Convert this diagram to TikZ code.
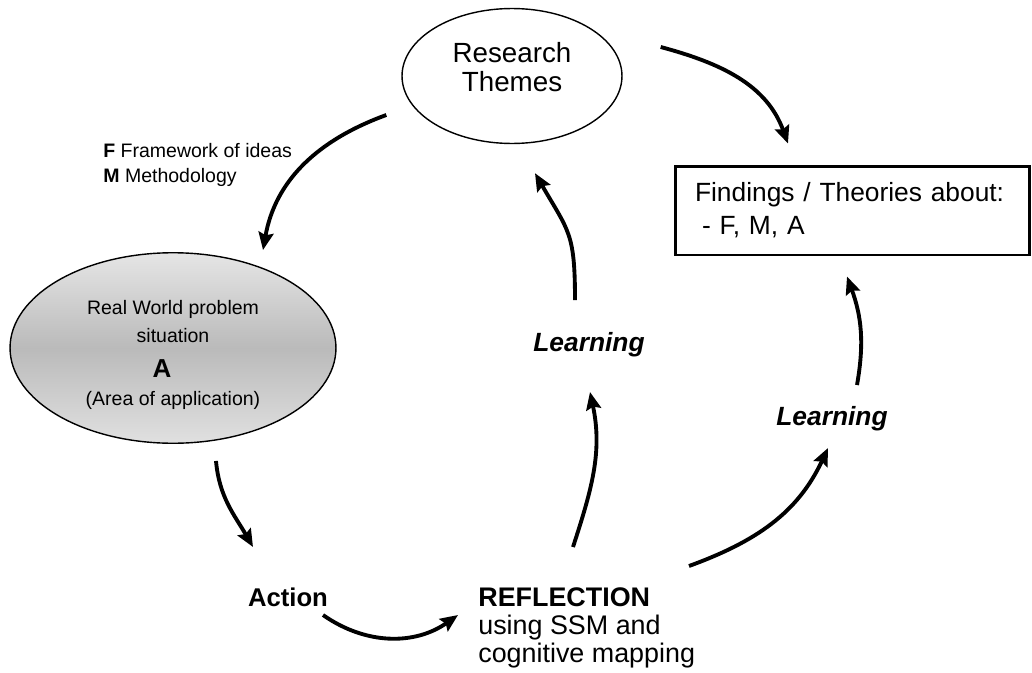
\documentclass[tikz,border=0pt]{standalone}
\usepackage{fontspec}
\setmainfont{Liberation Sans}
\usetikzlibrary{arrows.meta,shapes.geometric}

\begin{document}
\begin{tikzpicture}[x=0.02cm,y=0.02cm,
    flow/.style={line width=2.2pt,-{Stealth[length=10pt,width=8.5pt,inset=1.5pt]}},
    bigtext/.style={font=\fontsize{15.8pt}{17pt}\selectfont},
    smalltext/.style={font=\fontsize{11.1pt}{14.7pt}\selectfont}]

    % Fix the page size to the reference
    \useasboundingbox (0,0) rectangle (1032,-673);

    % Research themes at the top
    \node[draw,ellipse,line width=0.8pt,minimum width=4.4cm,minimum height=2.7cm,
          align=center,bigtext] (rt) at (512,-76) {Research\\Themes\rule[-0.36cm]{0pt}{0pt}};

    % Box with the findings on the right
    \node[draw,line width=1.7pt,text width=6.3cm,inner xsep=0.4cm,minimum height=1.78cm,
          align=left,font=\fontsize{15pt}{18.7pt}\selectfont] (find) at (852.5,-210.5)
          {Findings / Theories about:\\\hspace*{0.27em}- F, M, A};

    % Label on the arrow to the real world
    \node[anchor=west,align=left,inner sep=0pt,smalltext] (fm) at (103,-165)
          {\textbf{F} Framework of ideas\\\textbf{M} Methodology};

    % Shaded real world ellipse on the left
    \node[draw,ellipse,line width=0.8pt,top color=black!10,bottom color=black!12,middle color=black!27,
          minimum width=6.52cm,minimum height=3.72cm,align=center,
          font=\fontsize{11.1pt}{15.9pt}\selectfont] (rw) at (173,-348)
          {\rule{0pt}{16pt}Real World problem\\situation\\[4pt]\hspace*{-0.44cm}{\fontsize{14.8pt}{17pt}\selectfont\bfseries A}\\(Area of application)};

    % Action and reflection at the bottom
    \node[font=\fontsize{14.6pt}{17pt}\selectfont\bfseries] (act) at (288,-597) {Action};
    \node[anchor=west,align=left,inner sep=0pt,font=\fontsize{15.3pt}{15.9pt}\selectfont] (refl) at (478,-628)
          {\textbf{REFLECTION}\\using SSM and\\cognitive mapping};

    % The two learning labels
    \node[font=\fontsize{15pt}{18pt}\selectfont\bfseries\itshape] (l1) at (589,-345) {Learning};
    \node[font=\fontsize{15pt}{18pt}\selectfont\bfseries\itshape] (l2) at (832,-419) {Learning};

    % Arrows round the cycle
    \draw[flow] ([shift={(38,29)}]rt.east) to[out=-15,in=110] ([shift={(-64.5,21)}]find.north);
    \draw[flow] ([shift={(-15,-39)}]rt.west) to[out=200,in=80] ([shift={(90,2)}]rw.north);
    \draw[flow] ([shift={(43,-17)}]rw.south) to[out=-85,in=120] ([shift={(-35,50)}]act.center);
    \draw[flow] ([shift={(35,-18)}]act.center) to[out=-35,in=215] ([shift={(-20,13)}]refl.west);

    % Arrows for the learning
    \draw[flow] ([shift={(95,81)}]refl.west) to[out=72,in=-78] ([shift={(1,-47)}]l1.center);
    \draw[flow] ([shift={(-14,45)}]l1.center) to[out=90,in=-60,looseness=1.3] ([shift={(23,-29)}]rt.south);
    \draw[flow] ([shift={(211,62)}]refl.west) to[out=20,in=245] ([shift={(-4,-29)}]l2.center);
    \draw[flow] ([shift={(25,34)}]l2.center) to[out=80,in=-70] ([shift={(-5.5,-20)}]find.south);

\end{tikzpicture}
\end{document}
